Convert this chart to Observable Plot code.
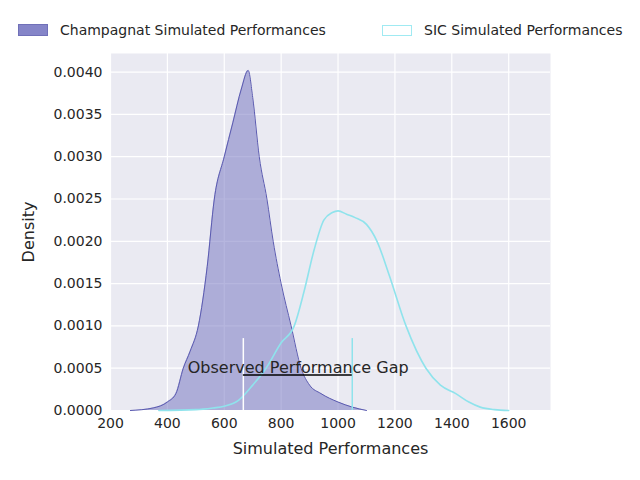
<!DOCTYPE html>
<html><head><meta charset="utf-8">
<script src="https://cdn.jsdelivr.net/npm/d3@7"></script>
<script src="https://cdn.jsdelivr.net/npm/@observablehq/plot@0.6"></script>
<style>
body{margin:0;font-family:"DejaVu Sans",sans-serif;background:#fff}
#wrap{position:relative;width:640px;height:480px;overflow:hidden}
.leg{position:absolute;top:22px;font-size:14px;color:#262626;white-space:nowrap;display:flex;align-items:center}
.sw{display:inline-block;width:28px;height:10px;margin-right:12px}
</style></head><body>
<div id="wrap">
<div class="leg" style="left:18px"><span class="sw" style="background:#8585c8;border:1px solid #7070b8"></span>Champagnat Simulated Performances</div>
<div class="leg" style="left:382px"><span class="sw" style="border:1px solid #a0eaf2;width:28px;height:9px"></span>SIC Simulated Performances</div>
<div id="chart"></div>
</div>
<script>
const champX = [270,350,400,430,456,480,509,540,565,600,630,660,684,700,723,750,772,800,835,870,900,940,1000,1050,1100];
const champY = [0,0.00003,0.0001,0.0002,0.0005,0.0007,0.001,0.0017,0.0025,0.0030,0.0034,0.0038,0.00402,0.0037,0.0030,0.0025,0.0020,0.0015,0.0010,0.0005,0.0003,0.0002,0.0001,0.00004,0];
const sicX = [370,500,560,600,650,700,747,800,846,880,916,950,980,1000,1030,1060,1100,1137,1180,1239,1309,1360,1414,1460,1500,1550,1600];
const sicY = [0,0.00001,0.00003,0.00005,0.00012,0.0003,0.0005,0.0008,0.001,0.0014,0.0019,0.00225,0.00234,0.00236,0.00232,0.00228,0.0022,0.002,0.0016,0.001,0.0005,0.0003,0.0002,0.0001,0.00004,0.00001,0];
const xTicks = [200,400,600,800,1000,1200,1400,1600];
const yTicks = [0,0.0005,0.001,0.0015,0.002,0.0025,0.003,0.0035,0.004];
const gapStart = 667, gapEnd = 1050, gapY = 0.00042, gapTop = 0.00085;
const champ = champX.map((x,i)=>({x,y:champY[i]}));
const sic = sicX.map((x,i)=>({x,y:sicY[i]}));
const ink = "#262626";
const chart = Plot.plot({
  width:640,height:480,marginTop:53,marginLeft:110,marginRight:90,marginBottom:70,
  style:{fontFamily:"DejaVu Sans",fontSize:"14px",color:ink,background:"transparent"},
  x:{domain:[200,1747],label:null},
  y:{domain:[0,0.00422],label:null},
  marks:[
    Plot.frame({fill:"#eaeaf2",stroke:null}),
    Plot.gridX(xTicks,{stroke:"#fff",strokeOpacity:1,strokeWidth:1.2}),
    Plot.gridY(yTicks,{stroke:"#fff",strokeOpacity:1,strokeWidth:1.2}),
    Plot.areaY(champ,{x:"x",y:"y",fill:"#7a7ac2",fillOpacity:0.55,curve:"monotone-x"}),
    Plot.line(champ,{x:"x",y:"y",stroke:"#5a5ab0",strokeWidth:1,curve:"monotone-x"}),
    Plot.line(sic,{x:"x",y:"y",stroke:"#8fe3ec",strokeWidth:1.6,curve:"monotone-x"}),
    Plot.ruleX([gapStart],{y1:0,y2:gapTop,stroke:"#fff",strokeWidth:1.5}),
    Plot.ruleX([gapEnd],{y1:0,y2:gapTop,stroke:"#8fe3ec",strokeWidth:1.5}),
    Plot.ruleY([gapY],{x1:gapStart,x2:gapEnd,stroke:"#000",strokeWidth:1.5}),
    Plot.text(["Observed Performance Gap"],{x:860,y:0.0005,fontSize:16,fill:ink}),
    Plot.axisX({ticks:xTicks,tickSize:0,tickPadding:8,label:null,tickFormat:d3.format("d")}),
    Plot.axisY({ticks:yTicks,tickSize:0,tickPadding:8,label:null,tickFormat:d3.format(".4f")}),
    Plot.text(["Simulated Performances"],{frameAnchor:"bottom",dy:43,fontSize:16,fill:ink}),
    Plot.text(["Density"],{frameAnchor:"left",dx:-82,rotate:-90,textAnchor:"middle",fontSize:16,fill:ink})
  ]
});
document.getElementById("chart").append(chart);
</script>
</body></html>
